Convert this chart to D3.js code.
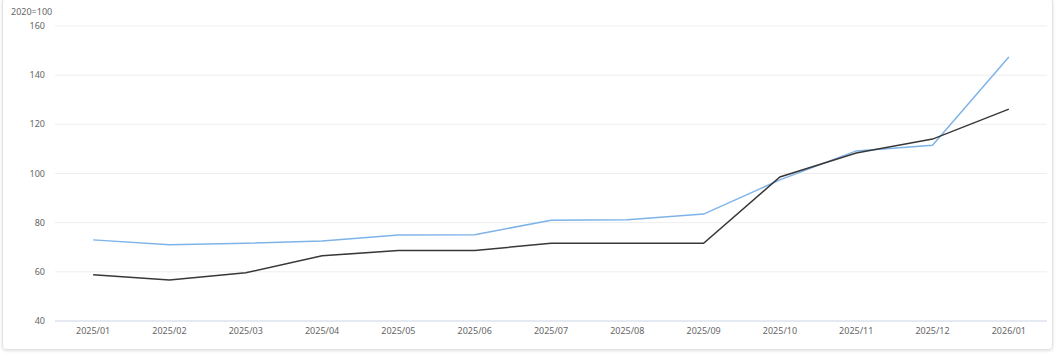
<!DOCTYPE html>
<html>
<head>
<meta charset="utf-8">
<script src="https://cdn.jsdelivr.net/npm/d3@7"></script>
<style>
  body { margin: 0; background: #fff; font-family: "Noto Sans", sans-serif; }
  .card {
    position: absolute; left: 2px; top: -2px; width: 1051px; height: 352px;
    border: 1px solid #e2e2e2; border-radius: 4px; box-sizing: border-box;
    box-shadow: 0 1px 3px rgba(0,0,0,0.12);
  }
  svg { position: absolute; left: 0; top: 0; }
</style>
</head>
<body>
<div class="card"></div>
<svg id="chart" width="1058" height="356"></svg>
<script>
const months = ["2025/01","2025/02","2025/03","2025/04","2025/05","2025/06","2025/07",
                "2025/08","2025/09","2025/10","2025/11","2025/12","2026/01"];
const blueSeries  = [73, 71, 71.6, 72.5, 75, 75.1, 81, 81.2, 83.5, 97.4, 109.2, 111.5, 147.4];
const blackSeries = [58.8, 56.7, 59.6, 66.5, 68.7, 68.7, 71.6, 71.6, 71.6, 98.6, 108.3, 114, 126.2];
const yTicks = [40, 60, 80, 100, 120, 140, 160];

const svg = d3.select("#chart");
const plotL = 55, plotR = 1047, plotT = 26, plotB = 321;

const x = d3.scaleBand().domain(months).range([plotL, plotR]);
const y = d3.scaleLinear().domain([40, 160]).range([plotB, plotT]);

// grid
svg.append("g").selectAll("line").data(yTicks.filter(t => t !== 40)).join("line")
  .attr("x1", plotL).attr("x2", plotR)
  .attr("y1", d => y(d)).attr("y2", d => y(d))
  .attr("stroke", "#eeeeee").attr("stroke-width", 1);

// x axis line
svg.append("line")
  .attr("x1", plotL).attr("x2", plotR)
  .attr("y1", plotB).attr("y2", plotB)
  .attr("stroke", "#dde3ee").attr("stroke-width", 1.5);

// y labels
svg.append("g").selectAll("text").data(yTicks).join("text")
  .attr("x", 45).attr("y", d => y(d) + 3)
  .attr("text-anchor", "end")
  .attr("font-size", 9).attr("fill", "#666")
  .text(d => d);

// x labels
svg.append("g").selectAll("text").data(months).join("text")
  .attr("x", d => x(d) + x.bandwidth() / 2).attr("y", 334)
  .attr("text-anchor", "middle")
  .attr("font-size", 9).attr("fill", "#666")
  .text(d => d);

svg.append("text").attr("x", 11).attr("y", 15)
  .attr("font-size", 9).attr("fill", "#666").text("2020=100");

const line = d3.line()
  .x((d, i) => x(months[i]) + x.bandwidth() / 2)
  .y(d => y(d));

svg.append("path").datum(blueSeries)
  .attr("d", line).attr("fill", "none")
  .attr("stroke", "#7eb3e8").attr("stroke-width", 1.5);

svg.append("path").datum(blackSeries)
  .attr("d", line).attr("fill", "none")
  .attr("stroke", "#383838").attr("stroke-width", 1.5);
</script>
</body>
</html>
